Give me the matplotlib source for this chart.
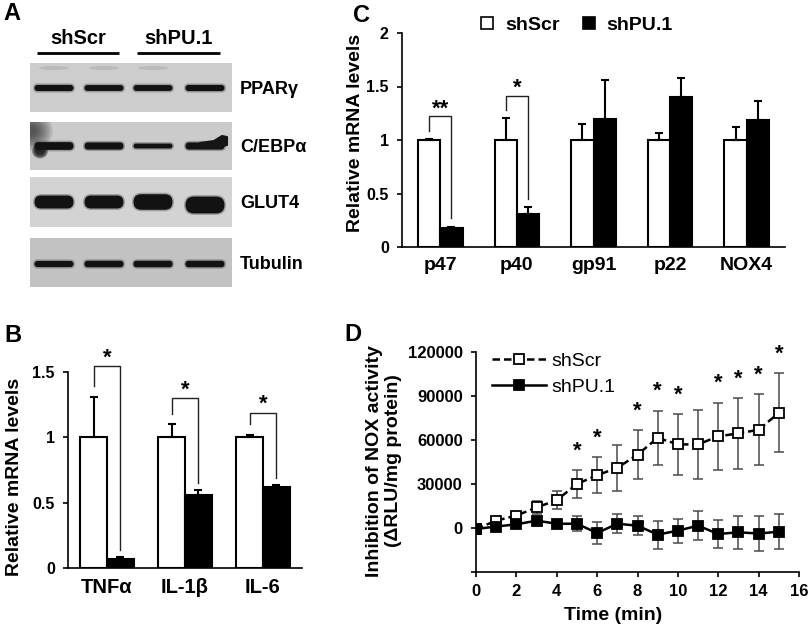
import matplotlib
matplotlib.use('Agg')
import matplotlib.pyplot as plt
import numpy as np
from matplotlib.patches import Rectangle, FancyBboxPatch, Ellipse, Polygon
from matplotlib.lines import Line2D

plt.rcParams['font.family'] = ['Liberation Sans', 'DejaVu Sans']
plt.rcParams['font.weight'] = 'bold'
plt.rcParams['axes.labelweight'] = 'bold'

# ---------------- data ----------------
blot_groups = ['shScr', 'shPU.1']
blot_proteins = ['PPARγ', 'C/EBPα', 'GLUT4', 'Tubulin']
band_intensity = [[0.95, 0.9, 0.9, 0.95],
                  [1.2, 1.1, 0.75, 1.1],
                  [2.0, 2.0, 2.4, 2.6],
                  [0.95, 1.0, 1.0, 1.0]]

b_categories = ['TNFα', 'IL-1β', 'IL-6']
b_shscr = [1.0, 1.0, 1.0]
b_shscr_err = [0.31, 0.10, 0.02]
b_shpu1 = [0.07, 0.56, 0.62]
b_shpu1_err = [0.015, 0.04, 0.015]
b_sig = ['*', '*', '*']
b_bracket_top = [1.545, 1.30, 1.19]

c_categories = ['p47', 'p40', 'gp91', 'p22', 'NOX4']
c_shscr = [1.0, 1.0, 1.0, 1.0, 1.0]
c_shscr_err = [0.01, 0.21, 0.15, 0.07, 0.12]
c_shpu1 = [0.18, 0.31, 1.20, 1.40, 1.19]
c_shpu1_err = [0.01, 0.06, 0.36, 0.18, 0.17]
c_sig = ['**', '*', '', '', '']
c_bracket_top = [1.22, 1.41, None, None, None]

d_time = list(range(16))
d_shscr = [-700, 5000, 8500, 14000, 19000, 30000, 36000, 41000, 50000, 61500,
           57000, 57000, 62500, 64500, 67000, 78500]
d_shscr_err = [1500, 2000, 2500, 4500, 6000, 9500, 12400, 15500, 16500, 18500,
               20800, 23400, 23000, 24000, 24200, 27000]
d_shpu1 = [-700, 1000, 2500, 5000, 2900, 2900, -3400, 2900, 1600, -4500,
           -1800, 1600, -4100, -2900, -3800, -2500]
d_shpu1_err = [1500, 2000, 2000, 2500, 2500, 5000, 7200, 6600, 6300, 9500,
               8100, 10100, 9700, 11200, 11700, 12000]
d_sig_times = [5, 6, 8, 9, 10, 12, 13, 14, 15]

# ---------------- figure ----------------
W, H = 810, 626
fig = plt.figure(figsize=(W / 100, H / 100), dpi=100)


def fx(x):
    return x / W


def fy(y):
    return 1 - y / H


def add_ax(l, t, r, b):
    return fig.add_axes([l / W, 1 - b / H, (r - l) / W, (b - t) / H])


def ptext(x, y, s, **kw):
    return fig.text(fx(x), fy(y), s, **kw)


# ---------------- Panel A: western blot ----------------
axA = add_ax(0, 0, 330, 310)
axA.set_xlim(0, 330)
axA.set_ylim(310, 0)
axA.axis('off')

blot_rows = [(63, 112), (122, 170), (177, 227), (238, 287)]
blot_bg = ['#cdcdcd', '#cbcbcb', '#d3d3d3', '#c2c2c2']
band_y = [88, 146, 202, 264]
lane_x = [54, 104, 153, 205]
band_w = 39

for r, (y0, y1) in enumerate(blot_rows):
    axA.add_patch(Rectangle((30, y0), 202, y1 - y0, facecolor=blot_bg[r],
                            edgecolor='none'))
    clip = Rectangle((30, y0), 202, y1 - y0, transform=axA.transData)
    if r == 1:
        # soft dark smear at upper-left of C/EBPα blot
        for k in range(14):
            e = Ellipse((31, 131), 44 - 2.6 * k, 40 - 2.4 * k,
                        facecolor='#1a1a1a', alpha=0.07, edgecolor='none')
            axA.add_patch(e)
            e.set_clip_path(clip)
    if r == 0:
        for lx in lane_x[:3]:
            axA.add_patch(Ellipse((lx, 68), 30, 4, facecolor='#a8a8a8',
                                  alpha=0.5, edgecolor='none'))
    for i, lx in enumerate(lane_x):
        th = band_intensity[r][i] * 6.5
        cy = band_y[r]
        if r == 2 and i == 3:
            cy += 3
        halo = FancyBboxPatch((lx - band_w / 2 - 1.5, cy - th / 2 - 1.5),
                              band_w + 3, th + 3,
                              boxstyle=f"round,pad=0,rounding_size={(th + 3) / 2}",
                              facecolor='#404040', alpha=0.35, edgecolor='none')
        axA.add_patch(halo)
        band = FancyBboxPatch((lx - band_w / 2, cy - th / 2), band_w, th,
                              boxstyle=f"round,pad=0,rounding_size={th / 2}",
                              facecolor='#121212', edgecolor='none')
        axA.add_patch(band)
    if r == 1:
        for k in range(5):
            axA.add_patch(Ellipse((40, 151), 16 - 2 * k, 15 - 2 * k,
                                  facecolor='#151515', edgecolor='none',
                                  alpha=0.35))
        axA.add_patch(Polygon([[200, 143], [214, 141], [222, 136], [227, 137],
                               [227, 145], [214, 148], [200, 148]],
                              closed=True, facecolor='#151515',
                              edgecolor='#151515', lw=1.5, joinstyle='round'))
    axA.text(240, (y0 + y1) / 2 + 2, blot_proteins[r], fontsize=13,
             ha='left', va='center', fontweight='bold')

group_spans = [(37, 119), (137, 220)]
for g, (x0, x1) in enumerate(group_spans):
    axA.plot([x0, x1], [53, 53], color='black', lw=2, solid_capstyle='butt')
    axA.text((x0 + x1) / 2, 38, blot_groups[g], fontsize=14.5, ha='center',
             va='center', fontweight='bold')

# ---------------- Panel B ----------------
axB = add_ax(68, 372, 302, 568)
xb = np.arange(len(b_categories))
wB = 0.34
ekw = dict(ecolor='black', elinewidth=1.5, capsize=3, capthick=1.5)
axB.bar(xb - wB / 2, b_shscr, wB, color='white', edgecolor='black', lw=1.5,
        yerr=[np.zeros(len(xb)), b_shscr_err], error_kw=ekw, zorder=2)
axB.bar(xb + wB / 2, b_shpu1, wB, color='black', edgecolor='black', lw=1.5,
        yerr=[np.zeros(len(xb)), b_shpu1_err], error_kw=ekw, zorder=2)
axB.set_xlim(-0.5, 2.5)
axB.set_ylim(0, 1.5)
axB.set_yticks([0, 0.5, 1, 1.5])
axB.set_yticklabels(['0', '0.5', '1', '1.5'], fontsize=11.5)
axB.set_xticks(xb)
axB.set_xticklabels(b_categories, fontsize=14.5)
gap = 0.08
for i, s in enumerate(b_sig):
    if not s:
        continue
    xl, xr = i - wB / 2, i + wB / 2
    yl = b_shscr[i] + b_shscr_err[i] + gap
    yr = b_shpu1[i] + b_shpu1_err[i] + 0.05
    top = b_bracket_top[i]
    axB.plot([xl, xl, xr, xr], [yl, top, top, yr], color='#222222', lw=1,
             clip_on=False, zorder=3)
    axB.text(i, top + 0.06, s, ha='center', va='center', fontsize=16,
             fontweight='bold', clip_on=False)

# ---------------- Panel C ----------------
axC = add_ax(402, 33, 785, 247)
xc = np.arange(len(c_categories))
wC = 0.29
axC.bar(xc - wC / 2, c_shscr, wC, color='white', edgecolor='black', lw=1.5,
        yerr=[np.zeros(len(xc)), c_shscr_err], error_kw=ekw, zorder=2)
axC.bar(xc + wC / 2, c_shpu1, wC, color='black', edgecolor='black', lw=1.5,
        yerr=[np.zeros(len(xc)), c_shpu1_err], error_kw=ekw, zorder=2)
axC.set_xlim(-0.5, 4.5)
axC.set_ylim(0, 2)
axC.set_yticks([0, 0.5, 1, 1.5, 2])
axC.set_yticklabels(['0', '0.5', '1', '1.5', '2'], fontsize=11.5)
axC.set_xticks(xc)
axC.set_xticklabels(c_categories, fontsize=14)
for i, s in enumerate(c_sig):
    if not s:
        continue
    xl, xr = i - wC / 2, i + wC / 2
    yl = c_shscr[i] + c_shscr_err[i] + 0.07
    yr = c_shpu1[i] + c_shpu1_err[i] + 0.08
    top = c_bracket_top[i]
    axC.plot([xl, xl, xr, xr], [yl, top, top, yr], color='#222222', lw=1,
             clip_on=False, zorder=3)
    axC.text(i, top + 0.07, s, ha='center', va='center', fontsize=16,
             fontweight='bold', clip_on=False)

legC = [Line2D([], [], marker='s', ls='none', mfc='white', mec='black',
               mew=1.2, ms=8.5),
        Line2D([], [], marker='s', ls='none', mfc='black', mec='black',
               mew=1.2, ms=8.5)]
fig.legend(legC, ['shScr', 'shPU.1'], loc='center', ncol=2,
           bbox_to_anchor=(fx(576), fy(25)), frameon=False,
           prop=dict(size=14, weight='bold'), handlelength=0.8,
           handletextpad=0.5, columnspacing=1.1, borderpad=0,
           borderaxespad=0)

for ax in (axB, axC):
    for sp in ('top', 'right'):
        ax.spines[sp].set_visible(False)
    for sp in ('left', 'bottom'):
        ax.spines[sp].set_linewidth(1.2)
    ax.tick_params(axis='y', direction='out', length=3.5, width=1.2, pad=6)
    ax.tick_params(axis='x', length=0, pad=7)

# ---------------- Panel D ----------------
axD = add_ax(476, 352, 799, 572)
axD.errorbar(d_time, d_shscr, yerr=d_shscr_err, fmt='none', ecolor='#4a4a4a',
             elinewidth=1.1, capsize=3.5, capthick=1.1, zorder=1)
axD.errorbar(d_time, d_shpu1, yerr=d_shpu1_err, fmt='none', ecolor='#4a4a4a',
             elinewidth=1.1, capsize=3.5, capthick=1.1, zorder=1)
axD.plot(d_time, d_shscr, ls=(0, (3, 1.6)), lw=1.8, color='black', marker='s',
         ms=7.5, mfc='white', mec='black', mew=1.3, zorder=3, label='shScr')
axD.plot(d_time, d_shpu1, ls='-', lw=1.8, color='black', marker='s',
         ms=7.5, mfc='black', mec='black', mew=1.3, zorder=4, label='shPU.1')
for t in d_sig_times:
    axD.text(t, d_shscr[t] + d_shscr_err[t] + 13000, '*', ha='center',
             va='center', fontsize=16, fontweight='bold', clip_on=False)
axD.set_xlim(0, 16)
axD.set_ylim(-30000, 120000)
axD.set_xticks(range(0, 17, 2))
axD.set_xticklabels([str(v) for v in range(0, 17, 2)], fontsize=12)
axD.set_yticks([-30000, 0, 30000, 60000, 90000, 120000])
axD.set_yticklabels(['', '0', '30000', '60000', '90000', '120000'], fontsize=12)
for sp in ('top', 'right'):
    axD.spines[sp].set_visible(False)
for sp in ('left', 'bottom'):
    axD.spines[sp].set_linewidth(1.2)
axD.tick_params(direction='out', length=3.5, width=1.2)
axD.tick_params(axis='y', pad=6)
axD.tick_params(axis='x', pad=5)
axD.legend(loc='upper left', bbox_to_anchor=(fx(492), fy(352)),
           bbox_transform=fig.transFigure, frameon=False,
           prop=dict(size=14, weight='normal'), handlelength=2.8,
           handletextpad=0.25, borderpad=0, borderaxespad=0,
           labelspacing=0.45)

# ---------------- axis labels & panel letters ----------------
ptext(15, 477, 'Relative mRNA levels', rotation=90, ha='center', va='center',
      fontsize=14, fontweight='bold')
ptext(355, 133, 'Relative mRNA levels', rotation=90, ha='center', va='center',
      fontsize=14, fontweight='bold')
ptext(384, 461, 'Inhibition of NOX activity\n(ΔRLU/mg protein)', rotation=90,
      ha='center', va='center', fontsize=14, fontweight='bold',
      linespacing=1.1, multialignment='center')
ptext(613, 615, 'Time (min)', ha='center', va='center', fontsize=14,
      fontweight='bold')

ptext(12, 13, 'A', ha='center', va='center', fontsize=17, fontweight='bold')
ptext(13, 336, 'B', ha='center', va='center', fontsize=17, fontweight='bold')
ptext(361, 15, 'C', ha='center', va='center', fontsize=17, fontweight='bold')
ptext(353, 334, 'D', ha='center', va='center', fontsize=17, fontweight='bold')

fig.savefig('out.png', dpi=100)
